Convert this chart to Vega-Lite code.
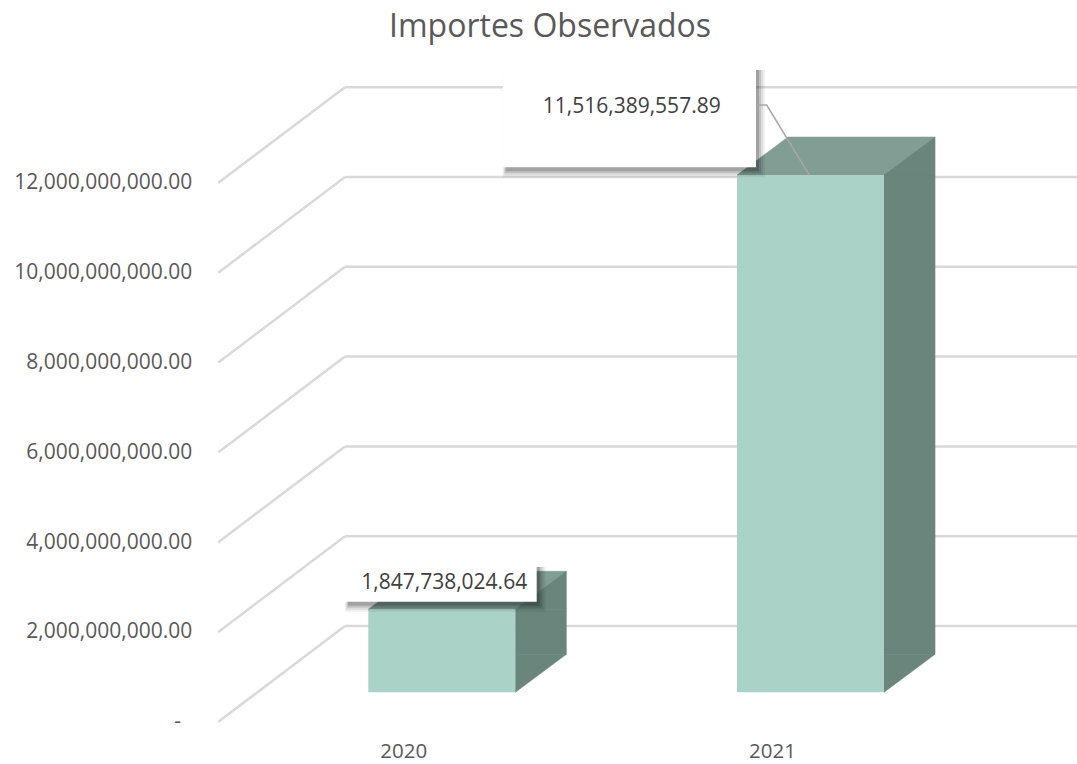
{
  "$schema": "https://vega.github.io/schema/vega-lite/v6.json",
  "width": 732,
  "height": 628.8,
  "autosize": {"type": "none"},
  "padding": {"left": 345, "top": 93, "right": 0, "bottom": 42.2},
  "title": {"text": "Importes Observados", "font": "Open Sans", "fontSize": 32, "fontWeight": "normal", "color": "#595959", "anchor": "middle", "dx": -161, "offset": 22},
  "config": {"view": {"stroke": null}, "font": "Open Sans"},
  "data": {"values": [
    {"year": 2020, "value": 1847738024.64},
    {"year": 2021, "value": 11516389557.89}
  ]},
  "layer": [
    {
      "data": {"values": [{"v": 0}, {"v": 2000000000}, {"v": 4000000000}, {"v": 6000000000}, {"v": 8000000000}, {"v": 10000000000}, {"v": 12000000000}]},
      "mark": {"type": "rule", "stroke": "#d9d9d9", "strokeWidth": 2.5, "yOffset": -95.7},
      "encoding": {"y": {"field": "v", "type": "quantitative"}}
    },
    {
      "data": {"values": [{"v": 0}, {"v": 2000000000}, {"v": 4000000000}, {"v": 6000000000}, {"v": 8000000000}, {"v": 10000000000}, {"v": 12000000000}]},
      "mark": {"type": "point", "shape": "M -126.7 0 L 0 -95.7", "size": 4, "filled": false, "stroke": "#d9d9d9", "strokeWidth": 2.5, "opacity": 1},
      "encoding": {
        "x": {"datum": 2019.8419, "type": "quantitative"},
        "y": {"field": "v", "type": "quantitative"}
      }
    },
    {
      "mark": {"type": "point", "shape": "M -73.5 0 L 73.5 0 L 124.5 -38 L -22.5 -38 Z", "size": 4, "filled": true, "fill": "#819e95", "stroke": "#819e95", "strokeWidth": 0.6, "opacity": 1, "xOffset": 38.5, "yOffset": -29.5},
      "encoding": {
        "x": {"field": "year", "type": "quantitative"},
        "y": {"field": "value", "type": "quantitative"}
      }
    },
    {
      "mark": {"type": "bar", "width": 51, "fill": "#6a857c", "stroke": "#6a857c", "strokeWidth": 0.6, "xOffset": 137.5, "yOffset": -29.5, "y2Offset": -67.5},
      "encoding": {
        "x": {"field": "year", "type": "quantitative"},
        "y": {"field": "value", "type": "quantitative"},
        "y2": {"datum": 0}
      }
    },
    {
      "mark": {"type": "point", "shape": "M 73.5 0 L 124.5 -38 L 124.5 0 Z", "size": 4, "filled": true, "fill": "#6a857c", "stroke": "#6a857c", "strokeWidth": 0.6, "opacity": 1, "xOffset": 38.5, "yOffset": -29.5},
      "encoding": {
        "x": {"field": "year", "type": "quantitative"},
        "y": {"field": "value", "type": "quantitative"}
      }
    },
    {
      "mark": {"type": "point", "shape": "M 73.5 0 L 73.5 -38 L 124.5 -38 Z", "size": 4, "filled": true, "fill": "#6a857c", "stroke": "#6a857c", "strokeWidth": 0.6, "opacity": 1, "xOffset": 38.5, "yOffset": -29.5},
      "encoding": {
        "x": {"field": "year", "type": "quantitative"},
        "y": {"datum": 0, "type": "quantitative"}
      }
    },
    {
      "mark": {"type": "bar", "width": 147, "fill": "#aad2c6", "xOffset": 38.5, "yOffset": -29.5, "y2Offset": -29.5},
      "encoding": {
        "x": {"field": "year", "type": "quantitative",
          "scale": {"domain": [2019.8419, 2021.8272], "nice": false, "zero": false, "padding": 0},
          "axis": {"values": [2020, 2021], "format": "d", "title": null, "domain": false, "ticks": false, "grid": false, "labelFont": "Open Sans", "labelFontSize": 20.5, "labelColor": "#595959", "labelPadding": 30, "labelBaseline": "middle", "labelFlush": false}},
        "y": {"field": "value", "type": "quantitative",
          "scale": {"domain": [0, 14000000000], "nice": false, "zero": true},
          "axis": {"values": [0, 2000000000, 4000000000, 6000000000, 8000000000, 10000000000, 12000000000], "labelExpr": "datum.value == 0 ? '-' : format(datum.value, ',.2f')", "title": null, "domain": false, "ticks": false, "grid": false, "offset": 126.7, "labelPadding": {"condition": {"test": "datum.value == 0", "value": 37.9}, "value": 26.6}, "labelFont": "Open Sans", "labelFontSize": 21, "labelColor": "#595959", "labelFlush": false, "labelOverlap": false}},
        "y2": {"datum": 0}
      }
    },
    {
      "transform": [{"filter": "datum.year == 2020"}],
      "layer": [
        {"mark": {"type": "point", "shape": "M -96.8 -42.3 L 103.9 -42.3 L 103.9 2.4 L -96.8 2.4 Z", "size": 4, "filled": true, "fill": "#000000", "strokeWidth": 0, "opacity": 0.06, "xOffset": 38.5, "yOffset": -29.5}},
        {"mark": {"type": "point", "shape": "M -95.8 -42.3 L 101.9 -42.3 L 101.9 0.4 L -95.8 0.4 Z", "size": 4, "filled": true, "fill": "#000000", "strokeWidth": 0, "opacity": 0.08, "xOffset": 38.5, "yOffset": -29.5}},
        {"mark": {"type": "point", "shape": "M -94.8 -42.3 L 99.9 -42.3 L 99.9 -1.6 L -94.8 -1.6 Z", "size": 4, "filled": true, "fill": "#000000", "strokeWidth": 0, "opacity": 0.12, "xOffset": 38.5, "yOffset": -29.5}},
        {"mark": {"type": "point", "shape": "M -93.8 -42.3 L 97.9 -42.3 L 97.9 -3.6 L -93.8 -3.6 Z", "size": 4, "filled": true, "fill": "#000000", "strokeWidth": 0, "opacity": 0.16, "xOffset": 38.5, "yOffset": -29.5}},
        {"mark": {"type": "point", "shape": "M -96.8 -46.3 L 94.9 -46.3 L 94.9 -7.6 L -96.8 -7.6 Z", "size": 4, "filled": true, "fill": "#ffffff", "strokeWidth": 0, "opacity": 1, "xOffset": 38.5, "yOffset": -29.5}},
        {"mark": {"type": "text", "font": "Open Sans", "fontSize": 21, "color": "#404040", "align": "center", "baseline": "middle", "dx": 40.9, "dy": -55.8},
         "encoding": {"text": {"field": "value", "type": "quantitative", "format": ",.2f"}}}
      ],
      "encoding": {
        "x": {"field": "year", "type": "quantitative"},
        "y": {"field": "value", "type": "quantitative"}
      }
    },
    {
      "transform": [{"filter": "datum.year == 2021"}],
      "layer": [
        {"mark": {"type": "point", "shape": "M -307.8 -105 L -45.5 -105 L -45.5 2.3 L -307.8 2.3 Z", "size": 4, "filled": true, "fill": "#000000", "strokeWidth": 0, "opacity": 0.06, "xOffset": 38.5, "yOffset": -29.5}},
        {"mark": {"type": "point", "shape": "M -306.8 -105 L -47.5 -105 L -47.5 0.3 L -306.8 0.3 Z", "size": 4, "filled": true, "fill": "#000000", "strokeWidth": 0, "opacity": 0.08, "xOffset": 38.5, "yOffset": -29.5}},
        {"mark": {"type": "point", "shape": "M -305.8 -105 L -49.5 -105 L -49.5 -1.7 L -305.8 -1.7 Z", "size": 4, "filled": true, "fill": "#000000", "strokeWidth": 0, "opacity": 0.12, "xOffset": 38.5, "yOffset": -29.5}},
        {"mark": {"type": "point", "shape": "M -304.8 -105 L -51.5 -105 L -51.5 -3.7 L -304.8 -3.7 Z", "size": 4, "filled": true, "fill": "#000000", "strokeWidth": 0, "opacity": 0.16, "xOffset": 38.5, "yOffset": -29.5}},
        {"mark": {"type": "point", "shape": "M -307.8 -109 L -54.5 -109 L -54.5 -7.7 L -307.8 -7.7 Z", "size": 4, "filled": true, "fill": "#ffffff", "strokeWidth": 0, "opacity": 1, "xOffset": 38.5, "yOffset": -29.5}},
        {"mark": {"type": "point", "shape": "M -53.8 -70 L -43.8 -70 L -1.2 0", "size": 4, "filled": false, "stroke": "#a6a6a6", "strokeWidth": 1.5, "opacity": 1, "xOffset": 38.5, "yOffset": -29.5}},
        {"mark": {"type": "text", "font": "Open Sans", "fontSize": 21, "color": "#404040", "align": "center", "baseline": "middle", "dx": -140.3, "dy": -97.8},
         "encoding": {"text": {"field": "value", "type": "quantitative", "format": ",.2f"}}}
      ],
      "encoding": {
        "x": {"field": "year", "type": "quantitative"},
        "y": {"field": "value", "type": "quantitative"}
      }
    }
  ]
}
